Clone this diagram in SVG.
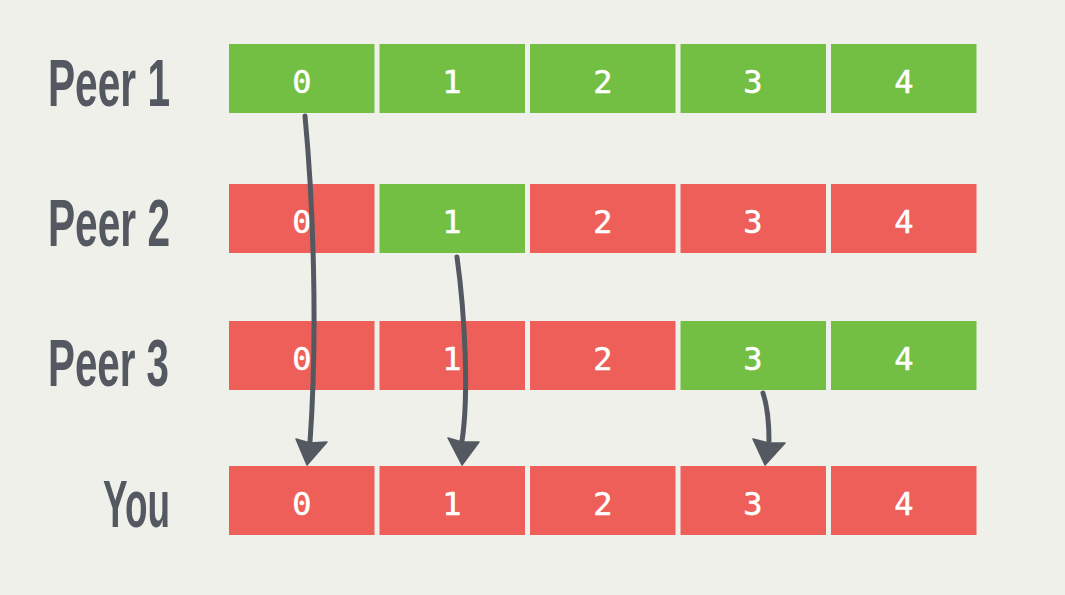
<svg xmlns="http://www.w3.org/2000/svg" width="1065" height="595" viewBox="0 0 1065 595">
<style>
.bg{fill:#f0f0eb}
.g{fill:#72bf44}
.r{fill:#ed5f58}
.d{font-family:"DejaVu Sans Mono","Liberation Mono",monospace;font-size:32px;fill:#ffffff;stroke:#ffffff;stroke-width:0.5;text-anchor:middle}
.lbl{font-family:"Liberation Sans Narrow","Liberation Sans","Arial Narrow",sans-serif;font-weight:bold;font-size:67px;fill:#545961}
.ln{fill:none;stroke:#545961;stroke-width:5;stroke-linecap:round}
.ah{fill:#545961;stroke:#545961;stroke-width:1.5;stroke-linejoin:round}
</style>
<rect class="bg" x="0" y="0" width="1065" height="595"/>
<g id="labels">
<text class="lbl" x="48" y="106" textLength="122" lengthAdjust="spacingAndGlyphs">Peer 1</text>
<text class="lbl" x="48" y="246" textLength="122" lengthAdjust="spacingAndGlyphs">Peer 2</text>
<text class="lbl" x="48" y="386" textLength="121" lengthAdjust="spacingAndGlyphs">Peer 3</text>
<text class="lbl" x="103" y="527" textLength="67" lengthAdjust="spacingAndGlyphs">You</text>
</g>
<g id="peer1">
<rect class="g" x="229" y="44" width="145.5" height="69"/><text class="d" x="302" y="92.5">0</text>
<rect class="g" x="379.5" y="44" width="145.5" height="69"/><text class="d" x="452" y="92.5">1</text>
<rect class="g" x="530" y="44" width="145.5" height="69"/><text class="d" x="603" y="92.5">2</text>
<rect class="g" x="680.5" y="44" width="145.5" height="69"/><text class="d" x="753" y="92.5">3</text>
<rect class="g" x="831" y="44" width="145.5" height="69"/><text class="d" x="904" y="92.5">4</text>
</g>
<g id="peer2">
<rect class="r" x="229" y="184" width="145.5" height="69"/><text class="d" x="302" y="232.5">0</text>
<rect class="g" x="379.5" y="184" width="145.5" height="69"/><text class="d" x="452" y="232.5">1</text>
<rect class="r" x="530" y="184" width="145.5" height="69"/><text class="d" x="603" y="232.5">2</text>
<rect class="r" x="680.5" y="184" width="145.5" height="69"/><text class="d" x="753" y="232.5">3</text>
<rect class="r" x="831" y="184" width="145.5" height="69"/><text class="d" x="904" y="232.5">4</text>
</g>
<g id="peer3">
<rect class="r" x="229" y="321" width="145.5" height="69"/><text class="d" x="302" y="369.5">0</text>
<rect class="r" x="379.5" y="321" width="145.5" height="69"/><text class="d" x="452" y="369.5">1</text>
<rect class="r" x="530" y="321" width="145.5" height="69"/><text class="d" x="603" y="369.5">2</text>
<rect class="g" x="680.5" y="321" width="145.5" height="69"/><text class="d" x="753" y="369.5">3</text>
<rect class="g" x="831" y="321" width="145.5" height="69"/><text class="d" x="904" y="369.5">4</text>
</g>
<g id="you">
<rect class="r" x="229" y="466" width="145.5" height="69"/><text class="d" x="302" y="514.5">0</text>
<rect class="r" x="379.5" y="466" width="145.5" height="69"/><text class="d" x="452" y="514.5">1</text>
<rect class="r" x="530" y="466" width="145.5" height="69"/><text class="d" x="603" y="514.5">2</text>
<rect class="r" x="680.5" y="466" width="145.5" height="69"/><text class="d" x="753" y="514.5">3</text>
<rect class="r" x="831" y="466" width="145.5" height="69"/><text class="d" x="904" y="514.5">4</text>
</g>
<g id="connectors">
<path class="ln" d="M305,116 C313,200 318,330 310,442"/>
<polygon class="ah" points="296,439 310,443 327,442 307,465"/>
<path class="ln" d="M457,257 C465,315 469,395 462,441"/>
<polygon class="ah" points="448,438 462,442 479,442 462,465"/>
<path class="ln" d="M763,393 C767,405 769,425 769,441"/>
<polygon class="ah" points="753,439 769,443 785,443 765,465"/>
</g>
</svg>
